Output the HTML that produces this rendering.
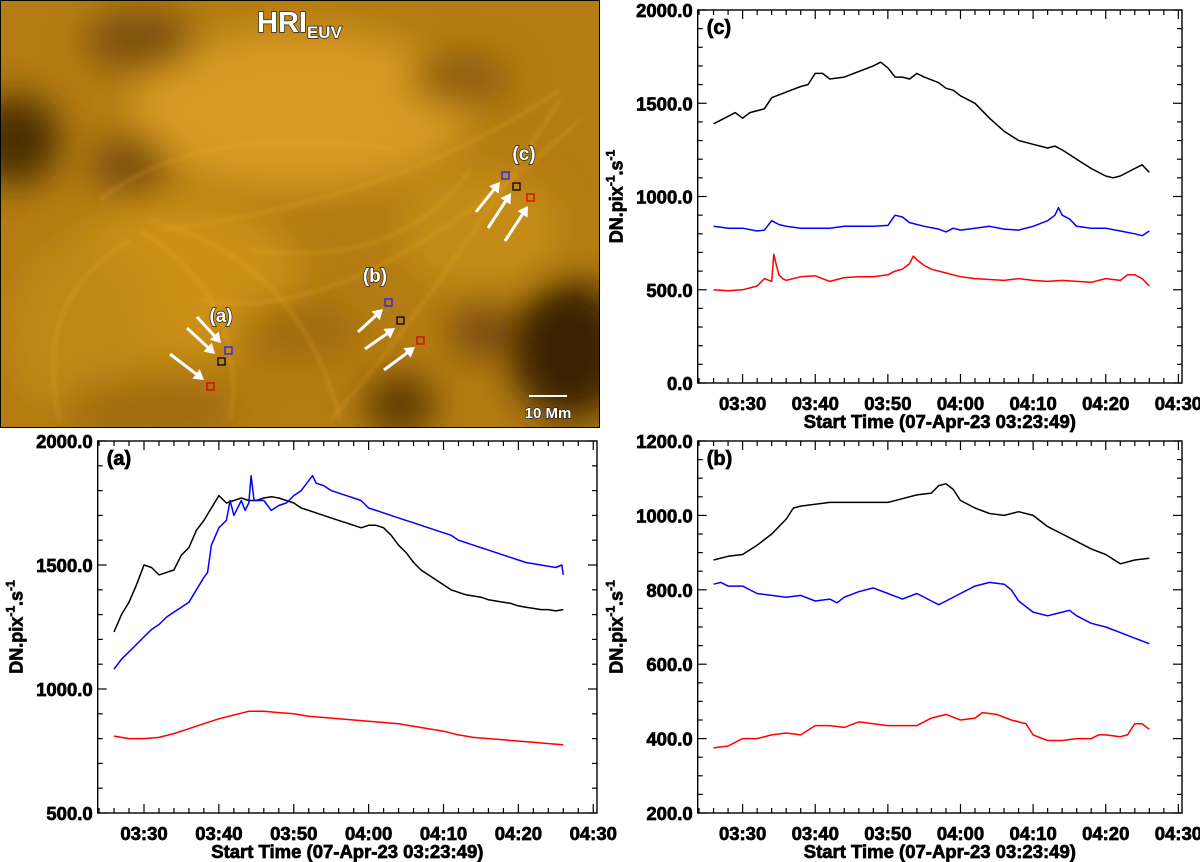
<!DOCTYPE html>
<html><head><meta charset="utf-8"><style>
html,body{margin:0;padding:0;background:#fff;}
body{width:1200px;height:862px;position:relative;overflow:hidden;font-family:"Liberation Sans",sans-serif;}
svg text{font-family:"Liberation Sans",sans-serif;}
#charts text{stroke:#000;stroke-width:0.7px;}
</style></head><body>
<svg id="img" width="600" height="428" style="position:absolute;left:0;top:0">
<defs>
<filter id="bl" x="-20%" y="-20%" width="140%" height="140%"><feGaussianBlur stdDeviation="18"/></filter>
<filter id="bl2"><feGaussianBlur stdDeviation="2"/></filter>
<clipPath id="cp"><rect x="1" y="1" width="598" height="426"/></clipPath>
</defs>
<g clip-path="url(#cp)">
<rect x="0" y="0" width="600" height="428" fill="#b47c12"/>
<g filter="url(#bl)">
<ellipse cx="300" cy="110" rx="170" ry="80" fill="#d89a22"/>
<ellipse cx="180" cy="280" rx="120" ry="80" fill="#cc9018"/>
<ellipse cx="80" cy="330" rx="70" ry="90" fill="#c08814"/>
<ellipse cx="480" cy="230" rx="80" ry="60" fill="#c48c18"/>
<ellipse cx="15" cy="140" rx="45" ry="45" fill="#4a2e02"/>
<ellipse cx="140" cy="40" rx="55" ry="30" fill="#7a5008"/>
<ellipse cx="130" cy="165" rx="40" ry="30" fill="#7a5008"/>
<ellipse cx="570" cy="350" rx="60" ry="70" fill="#3a2200"/>
<ellipse cx="400" cy="405" rx="35" ry="30" fill="#5a3804"/>
<ellipse cx="460" cy="80" rx="50" ry="25" fill="#8a5c0a"/>
<ellipse cx="300" cy="330" rx="60" ry="30" fill="#a06c0e"/>
<ellipse cx="150" cy="410" rx="90" ry="30" fill="#a06c0e"/>
<ellipse cx="480" cy="330" rx="30" ry="30" fill="#7a4e08"/>
</g>
<g fill="none" stroke="#f0b030" stroke-opacity="0.3" stroke-width="3" filter="url(#bl2)">
<path d="M140 230 Q250 300 230 420"/><path d="M150 220 Q300 260 340 420"/>
<path d="M130 240 Q30 300 60 420"/><path d="M160 230 Q400 200 560 90"/>
<path d="M200 300 Q350 330 580 120"/><path d="M330 420 Q420 320 560 100"/>
<path d="M100 200 Q200 120 400 150"/><path d="M250 250 Q400 270 470 170"/>
</g>
</g>
<rect x="0.5" y="0.5" width="599" height="427" fill="none" stroke="#000" stroke-width="1"/>
<text x="257" y="32" font-size="29" font-weight="bold" fill="#fff" stroke="#222" stroke-width="1.4" paint-order="stroke">HRI<tspan font-size="17" dy="6">EUV</tspan></text>
<g font-size="19" font-weight="bold" fill="#fff" stroke="#222" stroke-width="1.4" paint-order="stroke" text-anchor="middle">
<text x="221" y="322">(a)</text>
<text x="375" y="282">(b)</text>
<text x="524" y="160">(c)</text>
</g>
<g fill="none" stroke-width="1.3">
<rect x="225" y="347" width="7" height="7" stroke="#2020ff"/>
<rect x="218" y="358" width="7" height="7" stroke="#000"/>
<rect x="207" y="383" width="7" height="7" stroke="#e00000"/>
<rect x="385" y="299" width="7" height="7" stroke="#2020ff"/>
<rect x="397" y="317" width="7" height="7" stroke="#000"/>
<rect x="417" y="337" width="7" height="7" stroke="#e00000"/>
<rect x="502" y="172" width="7" height="7" stroke="#2020ff"/>
<rect x="513" y="183" width="7" height="7" stroke="#000"/>
<rect x="527" y="194" width="7" height="7" stroke="#e00000"/>
</g>
<g id="arrows"></g>
<line x1="529" y1="396" x2="567" y2="396" stroke="#fff" stroke-width="2"/>
<text x="548" y="418" font-size="15" font-weight="bold" fill="#fff" stroke="#222" stroke-width="1.2" paint-order="stroke" text-anchor="middle">10 Mm</text>
</svg>
<svg id="charts" width="1200" height="862" style="position:absolute;left:0;top:0;pointer-events:none"></svg>
<script>
// Panel (a) data
var aBlackT=[26,27,28,29,30,31,32,33,34,35,36,37,38,39,40,41,42,43,44,45,46,47,48,49,50,51,52,53,54,55,56,57,58,59,60,61,62,63,64,65,66,67,68,69,70,71,72,73,74,75,76,77,78,79,80,81,82,83,84,85,86];
var aBlackV=[1230,1300,1350,1420,1500,1490,1460,1470,1480,1540,1570,1640,1680,1730,1780,1750,1760,1770,1760,1760,1770,1775,1770,1760,1750,1730,1720,1710,1700,1690,1680,1670,1660,1650,1660,1660,1650,1620,1580,1550,1510,1480,1460,1440,1420,1400,1390,1380,1375,1370,1360,1355,1350,1345,1335,1330,1325,1320,1320,1315,1320];
var aBlueT=[26,27,28,29,30,31,32,33,34,35,36,37,38,38.5,39,40,41,41.5,42,43,43.5,44,44.3,44.7,45,46,47,48,49,50,51,52,52.5,53,54,55,56,57,58,59,60,61,62,63,64,65,66,67,68,69,70,71,72,73,74,75,76,77,78,79,80,81,82,83,84,85,85.8,86];
var aBlueV=[1080,1120,1150,1180,1210,1240,1260,1290,1310,1330,1350,1400,1450,1470,1580,1650,1680,1760,1700,1760,1720,1750,1860,1760,1760,1760,1720,1740,1750,1780,1800,1840,1860,1830,1820,1800,1790,1780,1770,1760,1730,1720,1710,1700,1690,1680,1670,1660,1650,1640,1630,1620,1600,1590,1580,1570,1560,1550,1540,1530,1520,1510,1505,1500,1495,1490,1500,1460];
var aRedT=[26,28,30,32,34,36,38,40,42,44,46,48,50,52,54,56,58,60,62,64,66,68,70,72,74,76,78,80,82,84,86];
var aRedV=[810,800,800,805,820,840,860,880,895,910,910,905,900,890,885,880,875,870,865,860,850,840,830,815,805,800,795,790,785,780,775];
// Panel (b) data
var bBlackT=[26,28,30,32,34,36,37,38,40,42,44,46,48,50,52,54,56,57,58,59,60,62,64,66,68,70,72,74,76,78,80,82,84,86];
var bBlackV=[880,890,895,920,950,990,1020,1025,1030,1035,1035,1035,1035,1035,1045,1055,1060,1080,1085,1070,1040,1020,1005,1000,1010,1000,970,950,930,910,895,870,880,885];
var bBlueT=[26,27,28,30,32,34,36,38,40,42,43,44,46,48,50,52,54,56,57,58,60,62,64,66,67,68,70,72,74,75,76,78,80,82,84,86];
var bBlueV=[815,820,810,810,790,785,780,785,770,775,765,780,795,805,790,775,790,770,760,770,790,810,820,815,800,770,740,730,740,745,730,710,700,685,670,655];
var bRedT=[26,28,30,32,34,36,38,40,42,44,46,48,50,52,54,56,58,60,62,63,65,67,69,70,72,74,76,78,79,80,82,83,84,85,86];
var bRedV=[375,380,400,400,410,415,410,435,435,430,445,440,435,435,435,455,465,450,455,470,465,450,440,410,395,395,400,400,410,410,405,410,440,440,425];
// Panel (c) data
var cBlackT=[26,28,29,30,31,33,34,36,38,39,40,41,42,44,46,48,49,50,51,52,53,54,55,57,58,59,60,62,64,66,68,70,72,73,74,76,78,80,81,82,84,85,86];
var cBlackV=[1390,1430,1450,1420,1450,1470,1530,1560,1590,1600,1660,1660,1630,1640,1670,1700,1720,1690,1640,1640,1630,1660,1640,1610,1580,1570,1540,1500,1420,1350,1300,1280,1260,1270,1250,1200,1150,1110,1100,1110,1150,1170,1130];
var cBlueT=[26,28,30,32,33,34,35,36,38,40,42,44,46,48,50,51,52,53,55,57,58,59,60,62,64,66,68,70,72,73,73.5,74,75,76,78,80,82,84,85,86];
var cBlueV=[840,830,830,815,820,870,850,840,830,830,830,840,840,840,845,900,890,860,840,825,810,830,820,830,840,825,820,840,870,900,940,900,880,840,830,830,815,800,790,815];
var cRedT=[26,28,30,32,33,34,34.3,34.6,35,35.5,36,38,40,42,44,46,48,50,51,52,53,53.5,54,55,56,58,60,62,64,66,68,70,72,74,76,78,80,82,83,84,85,86];
var cRedV=[500,495,500,520,560,545,690,640,580,560,550,570,575,545,565,570,570,580,600,610,640,680,660,630,610,590,570,560,555,550,560,550,545,550,545,540,560,550,580,580,560,520];
var xTickLabels=["03:30","03:40","03:50","04:00","04:10","04:20","04:30"];
var xTickMins=[30,40,50,60,70,80,90];
var aYTicks=[500,1000,1500,2000];
var bYTicks=[200,400,600,800,1000,1200];
var cYTicks=[0,500,1000,1500,2000];

var NS="http://www.w3.org/2000/svg";
function mk(parent,tag,attrs){var e=document.createElementNS(NS,tag);for(var k in attrs)e.setAttribute(k,attrs[k]);parent.appendChild(e);return e;}
var svg=document.getElementById('charts');
var T0=23+49/60, T1=90.5;

function panel(name,L,R,Tp,B,ymin,ymax,yTicks,yMinor,series){
  var g=mk(svg,'g',{});
  
  
  function X(t){return L+(t-T0)/(T1-T0)*(R-L);}
  function Y(v){return B-(v-ymin)/(ymax-ymin)*(B-Tp);}
  var fr=mk(g,'rect',{x:L,y:Tp,width:R-L,height:B-Tp,fill:'none',stroke:'#000','stroke-width':1.4});
  
  
  series.forEach(function(s){
    var d='';
    for(var i=0;i<s.t.length;i++){d+=(i?'L':'M')+X(s.t[i]).toFixed(1)+' '+Y(s.v[i]).toFixed(1);}
    var p=mk(g,'path',{d:d,fill:'none',stroke:s.c,'stroke-width':1.5,'stroke-linejoin':'round'});
    
    
  });
  for(var m=24;m<=90;m+=2){
    if(m<T0)continue;
    var major=(m%10===0), len=major?9:5, x=X(m);
    mk(g,'line',{x1:x,y1:B,x2:x,y2:B-len,stroke:'#000','stroke-width':1.2});
    mk(g,'line',{x1:x,y1:Tp,x2:x,y2:Tp+len,stroke:'#000','stroke-width':1.2});
  }
  xTickLabels.forEach(function(lb,i){
    var t=mk(g,'text',{x:X(xTickMins[i]),y:B+27,'font-size':18.5,'font-weight':'bold','text-anchor':'middle'});
    t.textContent=lb;
    
    
  });
  for(var v=ymin;v<=ymax+1e-6;v+=yMinor){
    var major=yTicks.indexOf(v)>=0, len=major?9:5, y=Y(v);
    mk(g,'line',{x1:L,y1:y,x2:L+len,y2:y,stroke:'#000','stroke-width':1.2});
    mk(g,'line',{x1:R,y1:y,x2:R-len,y2:y,stroke:'#000','stroke-width':1.2});
  }
  yTicks.forEach(function(v){
    var t=mk(g,'text',{x:L-5,y:Y(v)+7,'font-size':18.5,'font-weight':'bold','text-anchor':'end'});
    t.textContent=v.toFixed(1);
    
    
  });
  var xt=mk(g,'text',{x:(L+R)/2,y:B+45,'font-size':18.5,'font-weight':'bold','text-anchor':'middle'});
  xt.textContent='Start Time (07-Apr-23 03:23:49)';
  
  
  var cy=(Tp+B)/2;
  var yt=mk(g,'text',{x:0,y:0,'font-size':18,'font-weight':'bold','text-anchor':'middle',transform:'translate('+(L-75)+','+cy+') rotate(-90)'});
  yt.innerHTML='DN.pix<tspan font-size="12" dy="-8">-1</tspan><tspan dy="8">.s</tspan><tspan font-size="12" dy="-8">-1</tspan>';
  
  
  var pl=mk(g,'text',{x:L+9,y:Tp+24,'font-size':20,'font-weight':'bold'});
  pl.textContent='('+name.slice(-1)+')';
  
  
}
panel('panel-c',697.7,1182,10,383,0,2000,cYTicks,100,[
 {t:cBlackT,v:cBlackV,c:'#000',n:'series-c-black'},{t:cBlueT,v:cBlueV,c:'#0000ff',n:'series-c-blue'},{t:cRedT,v:cRedV,c:'#ff0000',n:'series-c-red'}]);
panel('panel-a',97.7,597,441,813,500,2000,aYTicks,100,[
 {t:aBlackT,v:aBlackV,c:'#000',n:'series-a-black'},{t:aBlueT,v:aBlueV,c:'#0000ff',n:'series-a-blue'},{t:aRedT,v:aRedV,c:'#ff0000',n:'series-a-red'}]);
panel('panel-b',697.7,1182,441,813,200,1200,bYTicks,50,[
 {t:bBlackT,v:bBlackV,c:'#000',n:'series-b-black'},{t:bBlueT,v:bBlueV,c:'#0000ff',n:'series-b-blue'},{t:bRedT,v:bRedV,c:'#ff0000',n:'series-b-red'}]);

var ag=document.getElementById('arrows');
var arrows=[[197,317,221,343],[187,328,215,354],[170,354,204,380],[358,332,383,309],[365,349,395,328],[384,370,415,347],[476,212,500,182],[488,228,511,193],[505,241,528,206]];
arrows.forEach(function(a){
  var dx=a[2]-a[0],dy=a[3]-a[1],L=Math.sqrt(dx*dx+dy*dy),ux=dx/L,uy=dy/L;
  var bx=a[2]-ux*10,by=a[3]-uy*10;
  var ln=mk(ag,'line',{x1:a[0],y1:a[1],x2:bx,y2:by,stroke:'#fff','stroke-width':3});
  
  
  mk(ag,'polygon',{points:a[2]+','+a[3]+' '+(bx-uy*6)+','+(by+ux*6)+' '+(bx+uy*6)+','+(by-ux*6),fill:'#fff'});
});
</script>
</body></html>
